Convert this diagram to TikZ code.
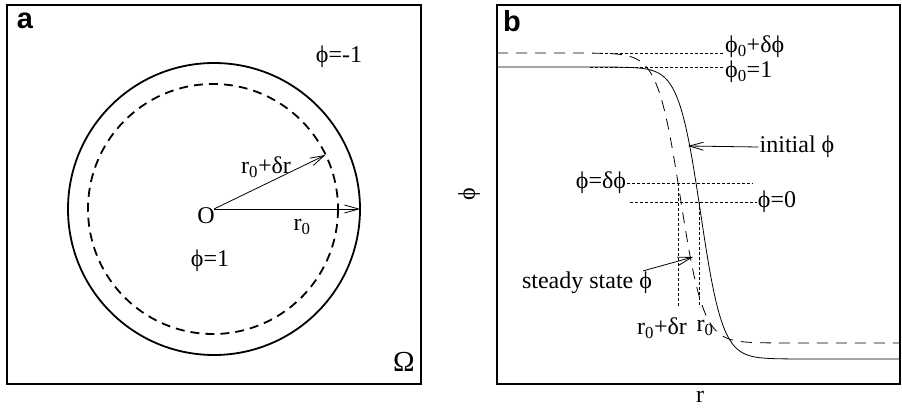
\documentclass[tikz,border=0pt]{standalone}
\usepackage{fontspec}
\setmainfont{Liberation Serif}
\newfontfamily\panelfont{Liberation Sans}
\usetikzlibrary{arrows.meta}

\begin{document}
\begin{tikzpicture}[
    x=1pt, y=-1pt,
    every node/.style={font=\fontsize{24}{28}\selectfont, inner sep=1pt},
    panel/.style={font=\panelfont\bfseries\fontsize{29}{32}\selectfont},
    frame/.style={line width=1.9pt},
    ring/.style={line width=1.8pt},
    ringdash/.style={line width=1.8pt, dash pattern=on 9pt off 6pt},
    guide/.style={line width=0.7pt, dash pattern=on 2.5pt off 2.5pt},
    steady/.style={line width=0.8pt, dash pattern=on 11pt off 8pt},
    arr/.style={line width=0.8pt, -{Straight Barb[length=14pt, width=8pt]}},
]
\useasboundingbox (0,0) rectangle (902,417);

% --- panel a: the domain
\draw[frame] (7,5) rectangle (421,384);
\node[panel] (lbla) at (25,21) {a};
\coordinate (c) at (214,209);
\draw[ring] (c) circle (146);
\draw[ringdash] (213,209) circle (125);
\coordinate (rtip) at (360,209);
\coordinate (drtip) at (325.5,155);
\node (O) at (206,216) {O};
\draw[arr] (c) -- (rtip);
\draw[arr] (c) -- (drtip);
\node (rdr) at (266,167) {r\textsubscript{0}+δr};
\node (rzero) at (302,227) {r\textsubscript{0}};
\node (phiout) at (339,57) {ϕ=-1};
\node (phiin) at (210,261) {ϕ=1};
\node[font=\fontsize{29}{32}\selectfont] (Omega) at (404,362) {Ω};

% --- panel b: profiles across the interface
\draw[frame] (497,5) rectangle (900,384);
\node[panel] (lblb) at (512,21) {b};
\draw[line width=0.8pt] (497,67) -- plot[domain=590:830, samples=140] (\x, {213+146*tanh((\x-700.6)/21.9)}) -- (900,359);
\draw[steady] (497,53) -- plot[domain=570:800, samples=140] (\x, {198+145*tanh((\x-680.4)/22.8)}) -- (900,343);

\coordinate (topd) at (600,53);
\coordinate (tops) at (590,67);
\node[anchor=west] (phitopd) at (724,47) {ϕ\textsubscript{0}+δϕ};
\node[anchor=west] (phitops) at (724,72) {ϕ\textsubscript{0}=1};
\draw[guide] (topd) -- (phitopd.west |- topd);
\draw[guide] (tops) -- (phitops.west |- tops);

\node (phidelta) at (601,183) {ϕ=δϕ};
\node (phizero) at (777,202) {ϕ=0};
\coordinate (dend) at (753,183);
\coordinate (zstart) at (630,202);
\draw[guide] (phidelta.east) -- (dend);
\draw[guide] (zstart) -- (phizero.west);

\node (rdrb) at (662,328) {r\textsubscript{0}+δr};
\node (rzerob) at (705,328) {r\textsubscript{0}};
\draw[guide] (678,183) -- (678,307);
\draw[guide] (699,202) -- (699,307);

\node (init) at (797,147) {initial ϕ};
\coordinate (inittip) at (688,146);
\draw[arr] (init.west) -- (inittip);
\node (ss) at (587,283) {steady state ϕ};
\coordinate (sstip) at (693,257);
\draw[arr] ([xshift=-10pt]ss.north east) -- (sstip);

\node[rotate=90] (phiaxis) at (469,194) {ϕ};
\node (raxis) at (700,397) {r};
\end{tikzpicture}
\end{document}
